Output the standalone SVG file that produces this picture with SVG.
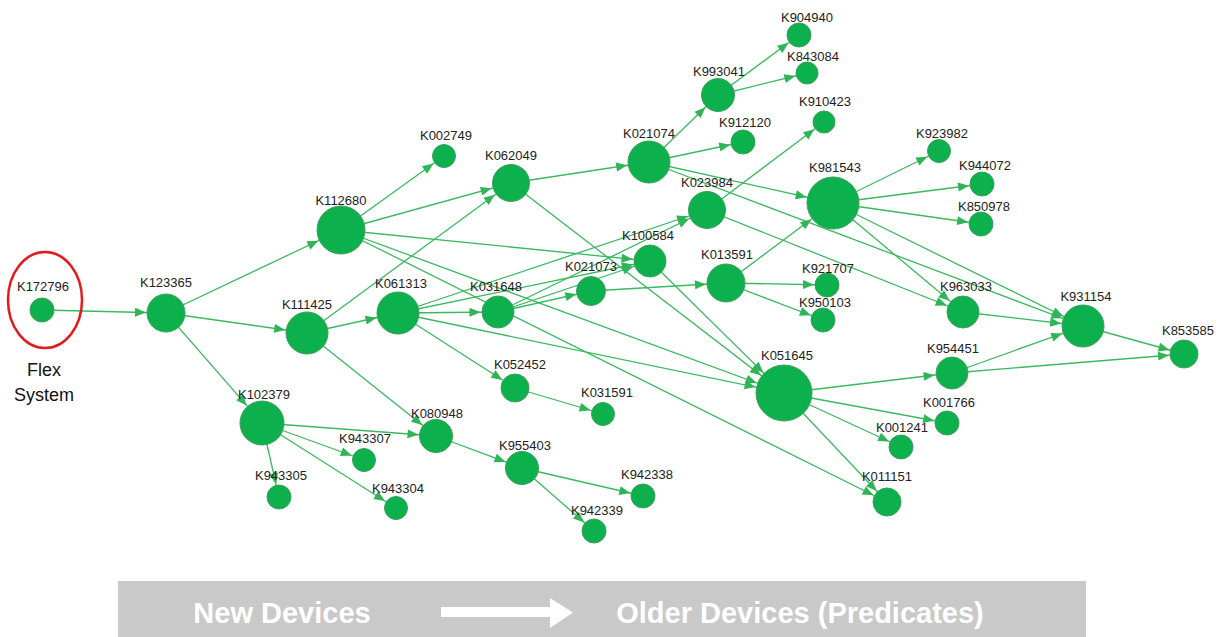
<svg xmlns="http://www.w3.org/2000/svg" width="1223" height="637" viewBox="0 0 1223 637">
  <style>
    .edge { stroke: #3bb961; stroke-width: 1.3; fill: none; }
    .node circle { fill: #0cb04c; stroke: #3f9f5a; stroke-width: 1; }
    .node text { font-family: "Liberation Sans", Arial, sans-serif; font-size: 13px; fill: #222; text-anchor: middle; }
    .note { font-family: "Liberation Sans", Arial, sans-serif; font-size: 18px; fill: #111; text-anchor: middle; }
    .banner { font-family: "Liberation Sans", Arial, sans-serif; font-size: 29px; font-weight: bold; fill: #ffffff; text-anchor: middle; }
  </style>
  <defs>
    <!-- arrowheads: tip sits (radius + 1) before the target centre -->
    <marker id="m11" markerUnits="userSpaceOnUse" markerWidth="30" markerHeight="30" refX="12" refY="0" orient="auto" overflow="visible"><path d="M-11,-4.5 L0,0 L-11,4.5 z" fill="#2fb457"/></marker>
    <marker id="m12" markerUnits="userSpaceOnUse" markerWidth="30" markerHeight="30" refX="13" refY="0" orient="auto" overflow="visible"><path d="M-11,-4.5 L0,0 L-11,4.5 z" fill="#2fb457"/></marker>
    <marker id="m14" markerUnits="userSpaceOnUse" markerWidth="30" markerHeight="30" refX="15" refY="0" orient="auto" overflow="visible"><path d="M-11,-4.5 L0,0 L-11,4.5 z" fill="#2fb457"/></marker>
    <marker id="m16" markerUnits="userSpaceOnUse" markerWidth="30" markerHeight="30" refX="17.5" refY="0" orient="auto" overflow="visible"><path d="M-11,-4.5 L0,0 L-11,4.5 z" fill="#2fb457"/></marker>
    <marker id="m19" markerUnits="userSpaceOnUse" markerWidth="30" markerHeight="30" refX="20" refY="0" orient="auto" overflow="visible"><path d="M-11,-4.5 L0,0 L-11,4.5 z" fill="#2fb457"/></marker>
    <marker id="m21" markerUnits="userSpaceOnUse" markerWidth="30" markerHeight="30" refX="22" refY="0" orient="auto" overflow="visible"><path d="M-11,-4.5 L0,0 L-11,4.5 z" fill="#2fb457"/></marker>
    <marker id="m22" markerUnits="userSpaceOnUse" markerWidth="30" markerHeight="30" refX="23" refY="0" orient="auto" overflow="visible"><path d="M-11,-4.5 L0,0 L-11,4.5 z" fill="#2fb457"/></marker>
    <marker id="m24" markerUnits="userSpaceOnUse" markerWidth="30" markerHeight="30" refX="25" refY="0" orient="auto" overflow="visible"><path d="M-11,-4.5 L0,0 L-11,4.5 z" fill="#2fb457"/></marker>
    <marker id="m26" markerUnits="userSpaceOnUse" markerWidth="30" markerHeight="30" refX="27" refY="0" orient="auto" overflow="visible"><path d="M-11,-4.5 L0,0 L-11,4.5 z" fill="#2fb457"/></marker>
    <marker id="m28" markerUnits="userSpaceOnUse" markerWidth="30" markerHeight="30" refX="29" refY="0" orient="auto" overflow="visible"><path d="M-11,-4.5 L0,0 L-11,4.5 z" fill="#2fb457"/></marker>
  </defs>

  <rect width="1223" height="637" fill="#ffffff"/>

  <!-- connectors: drawn centre to centre, nodes cover the ends -->
  <g id="connectors" class="edge">
    <line x1="42" y1="310" x2="166" y2="313" marker-end="url(#m19)"/>
    <line x1="166" y1="313" x2="341" y2="230" marker-end="url(#m24)"/>
    <line x1="166" y1="313" x2="307" y2="333" marker-end="url(#m21)"/>
    <line x1="166" y1="313" x2="262" y2="423" marker-end="url(#m22)"/>
    <line x1="341" y1="230" x2="444" y2="156" marker-end="url(#m12)"/>
    <line x1="341" y1="230" x2="511" y2="183" marker-end="url(#m19)"/>
    <line x1="341" y1="230" x2="650" y2="261" marker-end="url(#m16)"/>
    <line x1="341" y1="230" x2="784" y2="393" marker-end="url(#m28)"/>
    <line x1="341" y1="230" x2="887" y2="502" marker-end="url(#m14)"/>
    <line x1="307" y1="333" x2="511" y2="183" marker-end="url(#m19)"/>
    <line x1="307" y1="333" x2="398" y2="313" marker-end="url(#m21)"/>
    <line x1="307" y1="333" x2="436" y2="436" marker-end="url(#m16)"/>
    <line x1="262" y1="423" x2="436" y2="436" marker-end="url(#m16)"/>
    <line x1="262" y1="423" x2="364" y2="460" marker-end="url(#m12)"/>
    <line x1="262" y1="423" x2="279" y2="497" marker-end="url(#m12)"/>
    <line x1="262" y1="423" x2="396" y2="508" marker-end="url(#m12)"/>
    <line x1="511" y1="183" x2="649" y2="162" marker-end="url(#m21)"/>
    <line x1="511" y1="183" x2="784" y2="393" marker-end="url(#m28)"/>
    <line x1="398" y1="313" x2="707" y2="210" marker-end="url(#m19)"/>
    <line x1="398" y1="313" x2="650" y2="261" marker-end="url(#m16)"/>
    <line x1="398" y1="313" x2="498" y2="312" marker-end="url(#m16)"/>
    <line x1="398" y1="313" x2="784" y2="393" marker-end="url(#m28)"/>
    <line x1="398" y1="313" x2="515" y2="388" marker-end="url(#m14)"/>
    <line x1="498" y1="312" x2="707" y2="210" marker-end="url(#m19)"/>
    <line x1="498" y1="312" x2="650" y2="261" marker-end="url(#m16)"/>
    <line x1="498" y1="312" x2="591" y2="291" marker-end="url(#m14)"/>
    <line x1="591" y1="291" x2="726" y2="283" marker-end="url(#m19)"/>
    <line x1="650" y1="261" x2="784" y2="393" marker-end="url(#m28)"/>
    <line x1="649" y1="162" x2="718" y2="95" marker-end="url(#m16)"/>
    <line x1="649" y1="162" x2="743" y2="142" marker-end="url(#m12)"/>
    <line x1="649" y1="162" x2="833" y2="203" marker-end="url(#m26)"/>
    <line x1="649" y1="162" x2="1083" y2="326" marker-end="url(#m21)"/>
    <line x1="718" y1="95" x2="799" y2="35" marker-end="url(#m12)"/>
    <line x1="718" y1="95" x2="807" y2="73" marker-end="url(#m11)"/>
    <line x1="707" y1="210" x2="824" y2="122" marker-end="url(#m11)"/>
    <line x1="707" y1="210" x2="963" y2="312" marker-end="url(#m16)"/>
    <line x1="726" y1="283" x2="833" y2="203" marker-end="url(#m26)"/>
    <line x1="726" y1="283" x2="827" y2="285" marker-end="url(#m12)"/>
    <line x1="726" y1="283" x2="823" y2="320" marker-end="url(#m12)"/>
    <line x1="833" y1="203" x2="939" y2="151" marker-end="url(#m12)"/>
    <line x1="833" y1="203" x2="982" y2="184" marker-end="url(#m12)"/>
    <line x1="833" y1="203" x2="981" y2="224" marker-end="url(#m12)"/>
    <line x1="833" y1="203" x2="963" y2="312" marker-end="url(#m16)"/>
    <line x1="833" y1="203" x2="1083" y2="326" marker-end="url(#m21)"/>
    <line x1="963" y1="312" x2="1083" y2="326" marker-end="url(#m21)"/>
    <line x1="952" y1="373" x2="1083" y2="326" marker-end="url(#m21)"/>
    <line x1="952" y1="373" x2="1184" y2="354" marker-end="url(#m14)"/>
    <line x1="1083" y1="326" x2="1184" y2="354" marker-end="url(#m14)"/>
    <line x1="784" y1="393" x2="952" y2="373" marker-end="url(#m16)"/>
    <line x1="784" y1="393" x2="947" y2="423" marker-end="url(#m12)"/>
    <line x1="784" y1="393" x2="901" y2="447" marker-end="url(#m12)"/>
    <line x1="784" y1="393" x2="887" y2="502" marker-end="url(#m14)"/>
    <line x1="515" y1="388" x2="603" y2="414" marker-end="url(#m12)"/>
    <line x1="436" y1="436" x2="522" y2="468" marker-end="url(#m16)"/>
    <line x1="522" y1="468" x2="643" y2="496" marker-end="url(#m12)"/>
    <line x1="522" y1="468" x2="594" y2="531" marker-end="url(#m12)"/>
  </g>

  <!-- nodes -->
  <g id="K172796" class="node"><circle cx="42" cy="310" r="12"/><text x="43" y="291">K172796</text></g>
  <g id="K123365" class="node"><circle cx="166" cy="313" r="19"/><text x="166" y="287">K123365</text></g>
  <g id="K112680" class="node"><circle cx="341" cy="230" r="24"/><text x="341" y="205">K112680</text></g>
  <g id="K111425" class="node"><circle cx="307" cy="333" r="21"/><text x="307" y="309">K111425</text></g>
  <g id="K102379" class="node"><circle cx="262" cy="423" r="22"/><text x="264" y="399">K102379</text></g>
  <g id="K943307" class="node"><circle cx="364" cy="460" r="11.5"/><text x="365" y="443">K943307</text></g>
  <g id="K943305" class="node"><circle cx="279" cy="497" r="12"/><text x="281" y="480">K943305</text></g>
  <g id="K943304" class="node"><circle cx="396" cy="508" r="11.5"/><text x="398" y="493">K943304</text></g>
  <g id="K061313" class="node"><circle cx="398" cy="313" r="21"/><text x="401" y="288">K061313</text></g>
  <g id="K031648" class="node"><circle cx="498" cy="312" r="16"/><text x="496" y="291">K031648</text></g>
  <g id="K021073" class="node"><circle cx="591" cy="291" r="14.5"/><text x="591" y="271">K021073</text></g>
  <g id="K100584" class="node"><circle cx="650" cy="261" r="16"/><text x="648" y="240">K100584</text></g>
  <g id="K002749" class="node"><circle cx="444" cy="156" r="11.5"/><text x="446" y="140">K002749</text></g>
  <g id="K062049" class="node"><circle cx="511" cy="183" r="18.5"/><text x="511" y="160">K062049</text></g>
  <g id="K021074" class="node"><circle cx="649" cy="162" r="21"/><text x="649" y="138">K021074</text></g>
  <g id="K993041" class="node"><circle cx="718" cy="95" r="16.5"/><text x="719" y="76">K993041</text></g>
  <g id="K904940" class="node"><circle cx="799" cy="35" r="12"/><text x="807" y="22">K904940</text></g>
  <g id="K843084" class="node"><circle cx="807" cy="73" r="11"/><text x="813" y="61">K843084</text></g>
  <g id="K910423" class="node"><circle cx="824" cy="122" r="11"/><text x="825" y="106">K910423</text></g>
  <g id="K912120" class="node"><circle cx="743" cy="142" r="12"/><text x="745" y="127">K912120</text></g>
  <g id="K023984" class="node"><circle cx="707" cy="210" r="18.5"/><text x="707" y="187">K023984</text></g>
  <g id="K981543" class="node"><circle cx="833" cy="203" r="26"/><text x="835" y="172">K981543</text></g>
  <g id="K013591" class="node"><circle cx="726" cy="283" r="19"/><text x="727" y="259">K013591</text></g>
  <g id="K921707" class="node"><circle cx="827" cy="285" r="12"/><text x="828" y="273">K921707</text></g>
  <g id="K950103" class="node"><circle cx="823" cy="320" r="12"/><text x="825" y="307">K950103</text></g>
  <g id="K923982" class="node"><circle cx="939" cy="151" r="11.5"/><text x="942" y="138">K923982</text></g>
  <g id="K944072" class="node"><circle cx="982" cy="184" r="12"/><text x="985" y="170">K944072</text></g>
  <g id="K850978" class="node"><circle cx="981" cy="224" r="12"/><text x="984" y="211">K850978</text></g>
  <g id="K963033" class="node"><circle cx="963" cy="312" r="16"/><text x="966" y="291">K963033</text></g>
  <g id="K931154" class="node"><circle cx="1083" cy="326" r="21"/><text x="1086" y="301">K931154</text></g>
  <g id="K853585" class="node"><circle cx="1184" cy="354" r="14"/><text x="1188" y="335">K853585</text></g>
  <g id="K954451" class="node"><circle cx="952" cy="373" r="16"/><text x="953" y="353">K954451</text></g>
  <g id="K051645" class="node"><circle cx="784" cy="393" r="28"/><text x="787" y="360">K051645</text></g>
  <g id="K001766" class="node"><circle cx="947" cy="423" r="12"/><text x="949" y="407">K001766</text></g>
  <g id="K001241" class="node"><circle cx="901" cy="447" r="12"/><text x="902" y="432">K001241</text></g>
  <g id="K011151" class="node"><circle cx="887" cy="502" r="14"/><text x="887" y="481">K011151</text></g>
  <g id="K052452" class="node"><circle cx="515" cy="388" r="14"/><text x="520" y="369">K052452</text></g>
  <g id="K031591" class="node"><circle cx="603" cy="414" r="11.5"/><text x="607" y="397">K031591</text></g>
  <g id="K080948" class="node"><circle cx="436" cy="436" r="16.5"/><text x="437" y="418">K080948</text></g>
  <g id="K955403" class="node"><circle cx="522" cy="468" r="16.5"/><text x="525" y="450">K955403</text></g>
  <g id="K942338" class="node"><circle cx="643" cy="496" r="12"/><text x="647" y="479">K942338</text></g>
  <g id="K942339" class="node"><circle cx="594" cy="531" r="12"/><text x="597" y="515">K942339</text></g>

  <!-- highlighted starting device -->
  <g id="flex-system">
    <ellipse cx="45" cy="300" rx="37" ry="48" fill="none" stroke="#e3191c" stroke-width="2.5"/>
    <text class="note" x="44" y="376">Flex</text>
    <text class="note" x="44" y="401">System</text>
  </g>

  <!-- direction banner -->
  <g id="banner">
    <rect x="118" y="581" width="968" height="56" fill="#c9c9c9"/>
    <text class="banner" x="282" y="623">New Devices</text>
    <path d="M441,607 L550,607 L550,598 L573,612.5 L550,628 L550,617 L441,617 z" fill="#ffffff"/>
    <text class="banner" x="800" y="623">Older Devices (Predicates)</text>
  </g>
</svg>
